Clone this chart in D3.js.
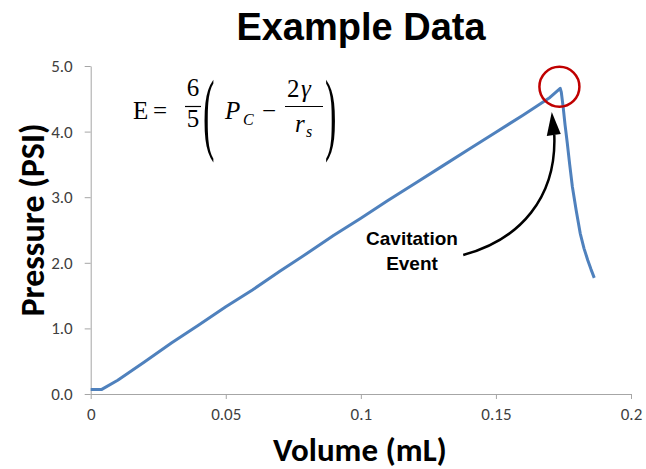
<!DOCTYPE html>
<html><head><meta charset="utf-8">
<script src="https://cdn.jsdelivr.net/npm/d3@7"></script>
<style>
body{margin:0;background:#fff;}
svg{display:block;}
</style></head>
<body>
<svg id="chart" width="646" height="469"></svg>
<script>
// ---- data ----
const volume   = [0, 0.0041, 0.01, 0.02, 0.03, 0.04, 0.05, 0.06, 0.07, 0.08, 0.09, 0.10, 0.11, 0.12, 0.13, 0.14, 0.15, 0.16, 0.17, 0.1738, 0.1742, 0.1749, 0.1756, 0.1764, 0.1773, 0.1783, 0.1797, 0.1812, 0.1826, 0.1840, 0.1852, 0.1864];
const pressure = [0.07, 0.07, 0.21, 0.49, 0.78, 1.05, 1.33, 1.59, 1.87, 2.14, 2.42, 2.68, 2.95, 3.21, 3.47, 3.73, 3.99, 4.25, 4.52, 4.66, 4.60, 4.37, 4.10, 3.83, 3.50, 3.16, 2.80, 2.45, 2.22, 2.04, 1.90, 1.77];
const xTicks = [0, 0.05, 0.1, 0.15, 0.2];
const xTickLabels = ["0", "0.05", "0.1", "0.15", "0.2"];
const yTicks = [0, 1, 2, 3, 4, 5];
const yTickLabels = ["0.0", "1.0", "2.0", "3.0", "4.0", "5.0"];
const title = "Example Data";
const xTitle = "Volume (mL)";
const yTitle = "Pressure (PSI)";
const noteLines = ["Cavitation", "Event"];
const eventPoint = [0.1735, 4.685];          // circled peak (data units)
const arrowPath = [[0.1379, 2.12], [0.159, 2.35], [0.1725, 3.0], [0.1716, 3.95]]; // cubic curve in data units

const svg = d3.select("#chart");
const x = d3.scaleLinear().domain([0, 0.2]).range([90.7, 631]);
const y = d3.scaleLinear().domain([0, 5]).range([394, 66]);

const tickFont = "Calibri, Carlito, Lato, 'DejaVu Sans', sans-serif";

// title
svg.append("text").attr("x", 361).attr("y", 40).attr("text-anchor", "middle")
  .attr("font-family", "'Liberation Sans', Arial, sans-serif").attr("font-weight", "bold")
  .attr("font-size", 38).attr("fill", "#000").text(title);

// axes
const xAxis = svg.append("g").attr("transform", `translate(0,${y(0)})`)
  .call(d3.axisBottom(x).tickValues(xTicks).tickFormat((d, i) => xTickLabels[i]).tickSizeInner(5).tickSizeOuter(0).tickPadding(9));
const yAxis = svg.append("g").attr("transform", `translate(${x(0)},0)`)
  .call(d3.axisLeft(y).tickValues(yTicks).tickFormat((d, i) => yTickLabels[i]).tickSizeInner(6).tickSizeOuter(0).tickPadding(12));
[xAxis, yAxis].forEach(g => {
  g.select(".domain").attr("stroke", "#a6a6a6").attr("stroke-width", 1);
  g.selectAll(".tick line").attr("stroke", "#a6a6a6");
  g.selectAll(".tick text").attr("font-family", tickFont).attr("font-size", 17).attr("fill", "#404040");
});

// axis titles
svg.append("text").attr("x", 360).attr("y", 461).attr("text-anchor", "middle")
  .attr("font-family", tickFont).attr("font-weight", "bold").attr("font-size", 33).attr("fill", "#000").text(xTitle);
svg.append("text").attr("transform", "translate(44,220) rotate(-90)").attr("text-anchor", "middle")
  .attr("font-family", tickFont).attr("font-weight", "bold").attr("font-size", 34).attr("fill", "#000").text(yTitle);

// data line
const pts = volume.map((v, i) => [v, pressure[i]]);
svg.append("path").datum(pts)
  .attr("d", d3.line().x(d => x(d[0])).y(d => y(d[1])))
  .attr("fill", "none").attr("stroke", "#4F81BD").attr("stroke-width", 3).attr("stroke-linejoin", "round");

// circle around peak
svg.append("circle").attr("cx", x(eventPoint[0])).attr("cy", y(eventPoint[1])).attr("r", 20)
  .attr("fill", "none").attr("stroke", "#C00000").attr("stroke-width", 2.5);

// curved arrow
const ap = arrowPath.map(p => [x(p[0]), y(p[1])]);
svg.append("path")
  .attr("d", `M${ap[0]}C${ap[1]} ${ap[2]} ${ap[3]}`)
  .attr("fill", "none").attr("stroke", "#000").attr("stroke-width", 2.5);
const tip = [ap[3][0] - 2.5, ap[3][1] - 23];
svg.append("path")
  .attr("d", `M${tip}L${ap[3][0] - 7.5},${ap[3][1] + 1}L${ap[3][0] + 6.5},${ap[3][1] - 1}Z`)
  .attr("fill", "#000");

// annotation text
const note = svg.append("text").attr("text-anchor", "middle")
  .attr("font-family", "'Liberation Sans', Arial, sans-serif").attr("font-weight", "bold").attr("font-size", 19).attr("fill", "#000");
note.selectAll("tspan").data(noteLines).join("tspan").attr("x", 412).attr("y", (d, i) => 245 + i * 25).text(d => d);

// formula
const f = svg.append("g").attr("font-family", "'Liberation Serif', 'Times New Roman', serif").attr("fill", "#000");
f.append("text").attr("x", 133).attr("y", 119).attr("font-size", 25).text("E");
f.append("text").attr("x", 153).attr("y", 119).attr("font-size", 25).text("=");
f.append("text").attr("x", 193).attr("y", 96).attr("font-size", 25).attr("text-anchor", "middle").text("6");
f.append("text").attr("x", 193).attr("y", 127).attr("font-size", 25).attr("text-anchor", "middle").text("5");
f.append("line").attr("x1", 185).attr("x2", 201).attr("y1", 106.5).attr("y2", 106.5).attr("stroke", "#000").attr("stroke-width", 1.2);
f.append("text").attr("transform", "translate(203,143) scale(0.75,2.0)").attr("font-size", 46).text("(");
f.append("text").attr("x", 225).attr("y", 119).attr("font-size", 25).attr("font-style", "italic").text("P");
f.append("text").attr("x", 243).attr("y", 125).attr("font-size", 16).attr("font-style", "italic").text("C");
f.append("text").attr("x", 262).attr("y", 119).attr("font-size", 25).text("\u2212");
f.append("text").attr("x", 287).attr("y", 97).attr("font-size", 25).text("2");
f.append("text").attr("x", 301).attr("y", 97).attr("font-size", 25).attr("font-style", "italic").text("\u03B3");
f.append("line").attr("x1", 285).attr("x2", 323).attr("y1", 106.5).attr("y2", 106.5).attr("stroke", "#000").attr("stroke-width", 1.2);
f.append("text").attr("x", 295).attr("y", 132).attr("font-size", 25).attr("font-style", "italic").text("r");
f.append("text").attr("x", 306).attr("y", 137).attr("font-size", 16).attr("font-style", "italic").text("s");
f.append("text").attr("transform", "translate(325,143) scale(0.75,2.0)").attr("font-size", 46).text(")");
</script>
</body></html>
